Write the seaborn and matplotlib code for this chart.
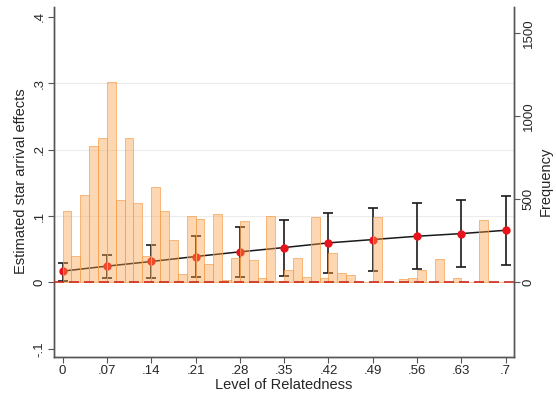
import numpy as np
import pandas as pd
import matplotlib
matplotlib.use('Agg')
import matplotlib.pyplot as plt
import seaborn as sns

# Relatedness levels where effects were estimated
relatedness = [0, 0.07, 0.14, 0.21, 0.28, 0.35, 0.42, 0.49, 0.56, 0.63, 0.70]
estimate = [0.017, 0.0245, 0.0315, 0.039, 0.046, 0.0525, 0.0595, 0.0645, 0.0695, 0.0735, 0.0785]
ci_low = [0.002, 0.007, 0.007, 0.008, 0.0085, 0.010, 0.0135, 0.017, 0.0195, 0.0225, 0.026]
ci_high = [0.0295, 0.041, 0.056, 0.0705, 0.0835, 0.0945, 0.1045, 0.1125, 0.1195, 0.124, 0.1305]

# Histogram of relatedness (frequency per bin of width .014, from 0 to .7)
frequency = [430, 160, 524, 823, 867, 1208, 498, 871, 478, 160,
             572, 430, 258, 50, 400, 380, 110, 410, 16, 148,
             368, 134, 24, 400, 10, 74, 148, 34, 396, 24,
             180, 58, 48, 0, 0, 396, 0, 0, 18, 28,
             74, 0, 144, 0, 24, 0, 0, 376, 0, 0]

xtick_vals = [0, 0.07, 0.14, 0.21, 0.28, 0.35, 0.42, 0.49, 0.56, 0.63, 0.70]
xtick_labels = ['0', '.07', '.14', '.21', '.28', '.35', '.42', '.49', '.56', '.63', '.7']
ytick_vals = [-0.1, 0, 0.1, 0.2, 0.3, 0.4]
ytick_labels = ['-.1', '0', '.1', '.2', '.3', '.4']
freq_ticks = [0, 500, 1000, 1500]

sns.set_style('white')
plt.rcParams['font.family'] = ['Liberation Sans', 'DejaVu Sans']

fig = plt.figure(figsize=(5.56, 3.94), dpi=100)
ax = fig.add_axes([0.097, 0.095, 0.828, 0.888])

# light horizontal grid
for g in [0.1, 0.2, 0.3]:
    ax.axhline(g, color='#ececec', lw=0.8, zorder=0)

est = np.array(estimate)
yerr = [est - np.array(ci_low), np.array(ci_high) - est]
ax.errorbar(relatedness, est, yerr=yerr, fmt='none', ecolor='#1a1a1a',
            elinewidth=1.2, capsize=3.5, capthick=1.2, zorder=2)
ax.plot(relatedness, est, color='#1a1a1a', lw=1.1, zorder=3)
ax.plot(relatedness, est, 'o', color='#e8141c', ms=5, zorder=4)

ax.set_xlim(-0.0137, 0.7136)
ax.set_ylim(-0.1116, 0.415)
ax.set_xticks(xtick_vals)
ax.set_xticklabels(xtick_labels, fontsize=9.5)
ax.set_yticks(ytick_vals)
ax.set_yticklabels(ytick_labels, fontsize=9.5, rotation=90, va='center')
ax.set_xlabel('Level of Relatedness', fontsize=10.5, labelpad=1)
ax.set_ylabel('Estimated star arrival effects', fontsize=10.5, labelpad=4)

# frequency histogram on the right axis
ax2 = ax.twinx()
bin_width = 0.014
n_bins = len(frequency)
hist_df = pd.DataFrame({'rel': (np.arange(n_bins) + 0.5) * bin_width, 'freq': frequency})
sns.histplot(data=hist_df, x='rel', weights='freq', bins=n_bins,
             binrange=(0, n_bins * bin_width), ax=ax2,
             color='#fc9c40', alpha=0.4, edgecolor='#f6a050', linewidth=0.5)
ax2.axhline(0, color='#cc2a1e', lw=1.2, ls=(0, (6, 3)), zorder=5)
ax2.set_ylim(-446, 1660)
ax2.set_yticks(freq_ticks)
ax2.set_yticklabels([str(t) for t in freq_ticks], fontsize=9.5, rotation=90, va='center')
ax2.set_ylabel('Frequency', fontsize=10.5, labelpad=3)

for a in (ax, ax2):
    a.spines['top'].set_visible(False)
    for s in ('left', 'right', 'bottom'):
        a.spines[s].set_color('#555555')
        a.spines[s].set_linewidth(1.0)
    a.tick_params(direction='out', length=4, width=0.8, color='#555555', pad=2)
ax.tick_params(left=True, bottom=True)
ax2.tick_params(right=True)

fig.savefig('out.png', dpi=100)
